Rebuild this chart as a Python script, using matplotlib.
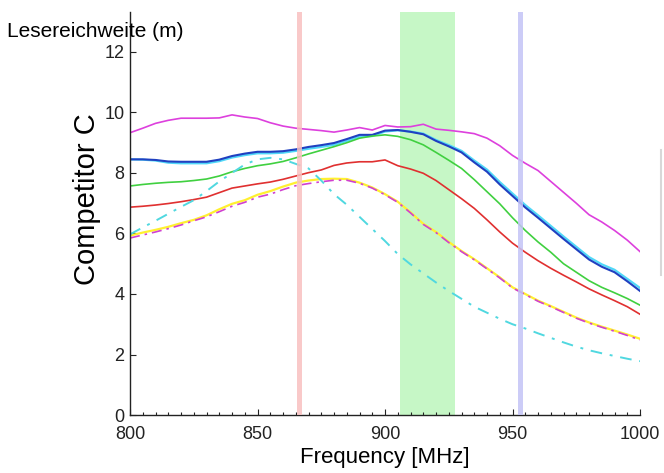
import matplotlib
matplotlib.use("Agg")
import matplotlib.pyplot as plt
from matplotlib.lines import Line2D
from matplotlib.ticker import MultipleLocator

plt.rcParams['font.family'] = ['Liberation Sans', 'DejaVu Sans']

freq = list(range(800, 1001, 5))

magenta_solid = [9.33, 9.48, 9.64, 9.74, 9.81, 9.81, 9.81, 9.82, 9.92, 9.85, 9.80,
                 9.66, 9.55, 9.48, 9.44, 9.40, 9.35, 9.42, 9.50, 9.42, 9.57, 9.52,
                 9.53, 9.61, 9.45, 9.41, 9.36, 9.30, 9.15, 8.90, 8.58, 8.32, 8.08,
                 7.72, 7.36, 7.00, 6.62, 6.38, 6.10, 5.78, 5.40]

blue_solid = [8.45, 8.45, 8.43, 8.38, 8.37, 8.37, 8.37, 8.44, 8.56, 8.64, 8.70,
              8.70, 8.72, 8.78, 8.86, 8.92, 8.99, 9.12, 9.26, 9.26, 9.40, 9.42,
              9.36, 9.28, 9.06, 8.88, 8.68, 8.35, 8.04, 7.62, 7.24, 6.86, 6.52,
              6.17, 5.82, 5.48, 5.14, 4.90, 4.72, 4.42, 4.10]

cyan_solid = [8.45, 8.44, 8.41, 8.34, 8.32, 8.32, 8.32, 8.39, 8.51, 8.59, 8.65,
              8.65, 8.67, 8.73, 8.80, 8.86, 8.93, 9.06, 9.20, 9.22, 9.37, 9.41,
              9.37, 9.30, 9.09, 8.92, 8.73, 8.41, 8.11, 7.70, 7.32, 6.94, 6.60,
              6.25, 5.90, 5.56, 5.22, 4.98, 4.80, 4.50, 4.20]

green_solid = [7.57, 7.62, 7.66, 7.69, 7.71, 7.75, 7.80, 7.90, 8.04, 8.15, 8.24,
               8.30, 8.38, 8.50, 8.63, 8.75, 8.87, 9.00, 9.15, 9.22, 9.26, 9.21,
               9.10, 8.93, 8.68, 8.42, 8.15, 7.78, 7.38, 6.98, 6.52, 6.10, 5.72,
               5.38, 5.00, 4.72, 4.44, 4.22, 4.04, 3.85, 3.63]

red_solid = [6.87, 6.90, 6.94, 6.99, 7.05, 7.12, 7.20, 7.35, 7.50, 7.57, 7.64,
             7.70, 7.79, 7.90, 8.01, 8.10, 8.25, 8.33, 8.37, 8.37, 8.43, 8.24,
             8.13, 7.99, 7.75, 7.45, 7.15, 6.83, 6.45, 6.05, 5.68, 5.38, 5.10,
             4.85, 4.62, 4.40, 4.17, 3.97, 3.78, 3.58, 3.33]

yellow_solid = [5.93, 6.03, 6.12, 6.22, 6.34, 6.45, 6.60, 6.80, 6.98, 7.10, 7.28,
                7.40, 7.55, 7.68, 7.75, 7.80, 7.81, 7.80, 7.68, 7.52, 7.30, 7.05,
                6.70, 6.32, 6.05, 5.72, 5.42, 5.15, 4.85, 4.55, 4.22, 4.00, 3.78,
                3.60, 3.41, 3.22, 3.06, 2.92, 2.79, 2.66, 2.52]

magenta_dashed = [5.85, 5.95, 6.05, 6.16, 6.28, 6.42, 6.55, 6.72, 6.90, 7.03, 7.20,
                  7.30, 7.45, 7.58, 7.65, 7.71, 7.76, 7.76, 7.66, 7.50, 7.28, 7.03,
                  6.68, 6.30, 6.03, 5.70, 5.40, 5.13, 4.83, 4.53, 4.20, 3.98, 3.76,
                  3.58, 3.39, 3.20, 3.04, 2.90, 2.77, 2.63, 2.48]

cyan_dashdot = [5.97, 6.20, 6.42, 6.65, 6.88, 7.10, 7.40, 7.72, 8.00, 8.28, 8.45,
                8.50, 8.45, 8.30, 8.15, 7.75, 7.30, 6.95, 6.55, 6.15, 5.75, 5.32,
                4.98, 4.68, 4.38, 4.10, 3.84, 3.58, 3.38, 3.18, 3.00, 2.86, 2.70,
                2.55, 2.40, 2.26, 2.14, 2.04, 1.95, 1.86, 1.78]

band_red = (865.6, 867.6)
band_green = (906.0, 927.5)
band_blue = (952.0, 954.0)

fig = plt.figure(figsize=(6.64, 4.73), dpi=100)
ax = fig.add_axes([0.1958, 0.1226, 0.7681, 0.852])

ax.axvspan(*band_green, color='#c6f7c6', lw=0, zorder=1)

ax.plot(freq, magenta_solid, color='#dd40dd', lw=1.2, zorder=2)
ax.plot(freq, cyan_solid, color='#50d8f8', lw=1.6, zorder=2)
ax.plot(freq, blue_solid, color='#2040c0', lw=1.5, zorder=2)
ax.plot(freq, green_solid, color='#40d040', lw=1.2, zorder=2)
ax.plot(freq, red_solid, color='#e03030', lw=1.2, zorder=2)
ax.plot(freq, yellow_solid, color='#fff030', lw=1.6, zorder=2)
ax.plot(freq, magenta_dashed, color='#d040d0', lw=1.2, ls=(0, (6, 3, 1.5, 3)), zorder=2)
ax.plot(freq, cyan_dashdot, color='#50d8e0', lw=1.4, ls=(0, (6, 4, 1.5, 4)), zorder=2)

ax.axvspan(*band_red, color='#f8c0c0', lw=0, alpha=0.85, zorder=3)
ax.axvspan(*band_blue, color='#c4c4f6', lw=0, alpha=0.85, zorder=3)

ax.set_xlim(800, 1000)
ax.set_ylim(0, 13.32)
ax.set_xticks([800, 850, 900, 950, 1000])
ax.xaxis.set_minor_locator(MultipleLocator(5))
ax.set_yticks([0, 2, 4, 6, 8, 10, 12])
ax.tick_params(axis='both', which='major', direction='in', length=4, width=0.8,
               labelsize=13, colors='#222222')
ax.tick_params(axis='x', which='minor', direction='in', length=2.5, width=0.8, colors='#222222')
ax.tick_params(axis='x', which='major', pad=8)
ax.tick_params(axis='y', which='major', pad=4)
for s in ['top', 'right']:
    ax.spines[s].set_visible(False)
for s in ['left', 'bottom']:
    ax.spines[s].set_color('#222222')
    ax.spines[s].set_linewidth(1.0)

ax.set_xlabel('Frequency [MHz]', fontsize=16, labelpad=3)
ax.set_ylabel('Competitor C', fontsize=21)
ax.yaxis.set_label_coords(-0.057, 0.535)

fig.text(0.011, 0.934, 'Lesereichweite (m)', fontsize=15, ha='left', va='center')

fig.add_artist(Line2D([0.9955, 0.9955], [1 - 275 / 473, 1 - 150 / 473],
                      transform=fig.transFigure, color='#d8d8d8', lw=1.5))

fig.savefig('out.png', dpi=100)
